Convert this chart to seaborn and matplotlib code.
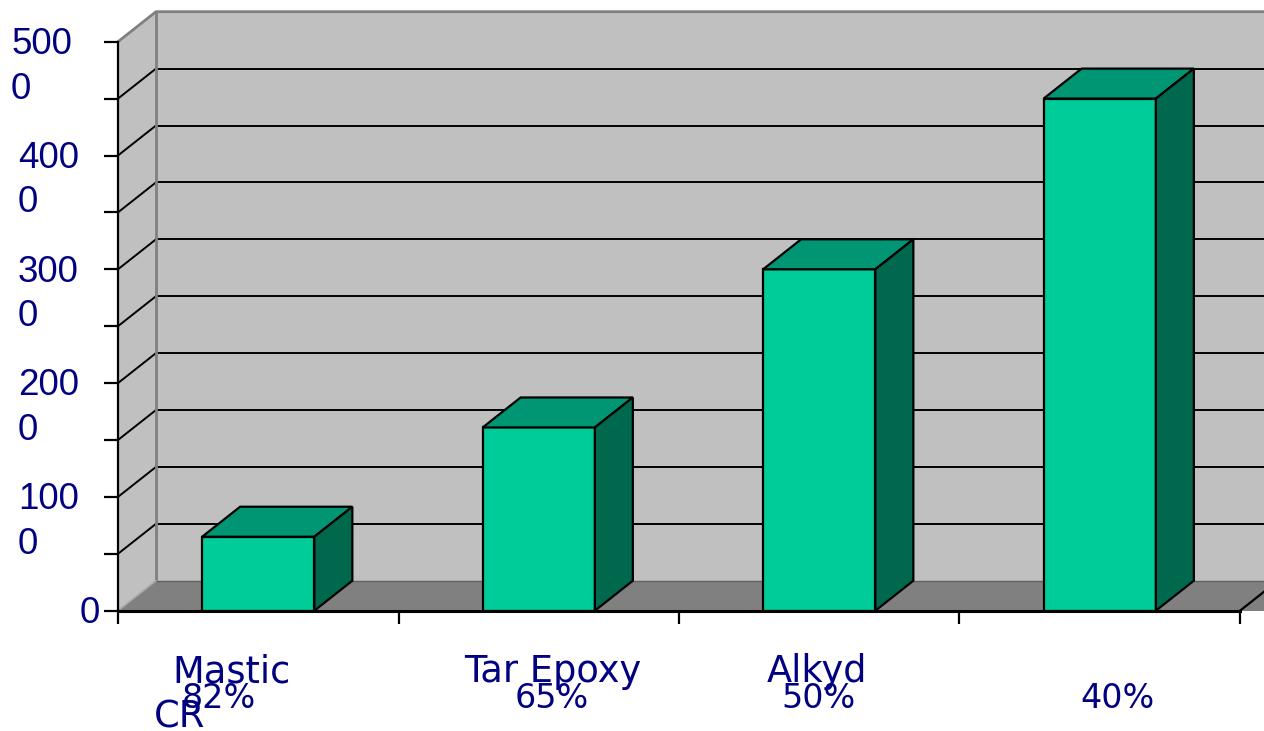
import matplotlib
matplotlib.use("Agg")
import matplotlib.pyplot as plt
import matplotlib.transforms as mtransforms
from matplotlib.patches import Polygon, Rectangle
import seaborn as sns

# ---------------- data ----------------
categories = ["Mastic", "Tar Epoxy", "Alkyd", "CR"]
percents = ["82%", "65%", "50%", "40%"]
values = [650, 1610, 3000, 4500]
ytick_values = [0, 1000, 2000, 3000, 4000, 5000]
ytick_labels = ["0", "100\n0", "200\n0", "300\n0", "400\n0", "500\n0"]
yminor_values = [500, 1500, 2500, 3500, 4500]

# ---------------- layout / style ----------------
W, H, DPI = 1264, 731, 100
AX_L, AX_R, AX_T, AX_B = 118, 1240, 41.7, 610.7      # pixel box of the front plane
NAVY = "#000080"
FRONT, TOP, SIDE = "#00CC99", "#009673", "#00684D"
WALL, FLOOR = "#C0C0C0", "#808080"

fig = plt.figure(figsize=(W / DPI, H / DPI), dpi=DPI)
ax = fig.add_axes([AX_L / W, (H - AX_B) / H, (AX_R - AX_L) / W, (AX_B - AX_T) / H])
ax.set_facecolor("none")

YMAX = 5000
px_x = (AX_R - AX_L) / 4.0          # pixels per category
px_y = (AX_B - AX_T) / YMAX         # pixels per value unit
DX = 38 / px_x                       # depth offset in data units
DY = 30 / px_y
XL, XR = -0.5, 3.5
XFAR = XR + DX + 0.3

# walls and floor
ax.add_patch(Rectangle((XL + DX, DY), XFAR - (XL + DX), YMAX, facecolor=WALL,
                       edgecolor="none", clip_on=False, zorder=0))
ax.add_patch(Polygon([(XL, 0), (XL + DX, DY), (XL + DX, YMAX + DY), (XL, YMAX)],
                     closed=True, facecolor=WALL, edgecolor="none", clip_on=False, zorder=0))
ax.add_patch(Polygon([(XL, 0), (XFAR, 0), (XFAR, DY), (XL + DX, DY)],
                     closed=True, facecolor=FLOOR, edgecolor="none", clip_on=False, zorder=0.1))

# gridlines on back wall and left wall
for v in yminor_values + ytick_values[1:-1]:
    ax.plot([XL + DX, XFAR], [v + DY, v + DY], color="black", lw=1.4, clip_on=False, zorder=1)
    ax.plot([XL, XL + DX], [v, v + DY], color="black", lw=1.4, clip_on=False, zorder=1)
# wall edges
ax.plot([XL, XL + DX, XFAR], [YMAX, YMAX + DY, YMAX + DY], color="#808080", lw=2,
        clip_on=False, zorder=1)
ax.plot([XL + DX, XL + DX], [DY, YMAX + DY], color="#808080", lw=2, clip_on=False, zorder=1)
ax.plot([XL + DX, XFAR], [DY, DY], color="#606060", lw=1, clip_on=False, zorder=1)
ax.plot([XL, XL + DX], [0, DY], color="#A8A8A8", lw=1.2, clip_on=False, zorder=1)
ax.plot([XR, XR + DX], [0, DY], color="black", lw=1.6, clip_on=False, zorder=1)

# bars (front faces) via seaborn
n_before = len(ax.patches)
sns.barplot(x=categories, y=values, order=categories, width=0.4, color=FRONT,
            saturation=1, edgecolor="black", linewidth=1.6, ax=ax, zorder=3)
bars = list(ax.patches)[n_before:]

for p in bars:
    x0 = p.get_x()
    x1 = x0 + p.get_width()
    h = p.get_height()
    ax.add_patch(Polygon([(x0, h), (x1, h), (x1 + DX, h + DY), (x0 + DX, h + DY)], closed=True,
                         facecolor=TOP, edgecolor="black", lw=1.6, clip_on=False, zorder=3))
    ax.add_patch(Polygon([(x1, 0), (x1 + DX, DY), (x1 + DX, h + DY), (x1, h)], closed=True,
                         facecolor=SIDE, edgecolor="black", lw=1.6, clip_on=False, zorder=3))

ax.set_xlim(XL, XR)
ax.set_ylim(0, YMAX)
ax.set_xlabel("")
ax.set_ylabel("")

for s in ["top", "right"]:
    ax.spines[s].set_visible(False)
ax.spines["left"].set_color("black")
ax.spines["left"].set_linewidth(1.6)
ax.spines["bottom"].set_color("black")
ax.spines["bottom"].set_linewidth(2.2)
ax.spines["left"].set_zorder(4)
ax.spines["bottom"].set_zorder(4)

# x ticks: marks at category boundaries
ax.set_xticks(range(len(categories)), labels=[""] * len(categories))
ax.set_xticks([XL + i for i in range(len(categories) + 1)], minor=True)
ax.tick_params(axis="x", which="major", length=0)
ax.tick_params(axis="x", which="minor", length=9, width=1.6, color="black", direction="out")

# y ticks
ax.set_yticks(yminor_values, minor=True)
ax.set_yticks(ytick_values, labels=ytick_labels)
ax.tick_params(axis="y", which="both", length=10, width=1.6, color="black",
               direction="out", pad=0)
ax.tick_params(axis="y", which="major", labelsize=26.5, labelcolor=NAVY)

label_x_px = [84, 22, 22, 22, 22, 15]   # left edge of each tick label (pixels)
anchor_px = AX_L - 10
for lab, lx in zip(ax.get_yticklabels(), label_x_px):
    nlines = lab.get_text().count("\n") + 1
    lab.set_fontfamily("Liberation Sans")
    lab.set_ha("left")
    lab.set_va("baseline")
    lab.set_multialignment("left")
    lab.set_linespacing(1.36)
    dy_px = 12 + 45 * (nlines - 1)
    lab.set_transform(lab.get_transform() +
                      mtransforms.ScaledTranslation((lx - anchor_px) / DPI, -dy_px / DPI,
                                                    fig.dpi_scale_trans))

# category texts (as rendered in the reference)
def dx_from_px(px):
    return (px - AX_L) / px_x - 0.5

name_px = [231, 553, 817, 180]
name_base = [682.5, 682.5, 682.5, 728]
pct_px = [219, 552, 819, 1118]
pct_base = [708, 708, 708, 708]
trans = ax.get_xaxis_transform()
for t, xp, yb in zip(categories, name_px, name_base):
    ax.text(dx_from_px(xp), -(yb - AX_B) / (AX_B - AX_T), t, transform=trans,
            ha="center", va="baseline", fontsize=26.5, color=NAVY,
            family="DejaVu Sans", clip_on=False)
for t, xp, yb in zip(percents, pct_px, pct_base):
    ax.text(dx_from_px(xp), -(yb - AX_B) / (AX_B - AX_T), t, transform=trans,
            ha="center", va="baseline", fontsize=24, color=NAVY,
            family="DejaVu Sans", clip_on=False)

fig.savefig("out.png", dpi=DPI)
